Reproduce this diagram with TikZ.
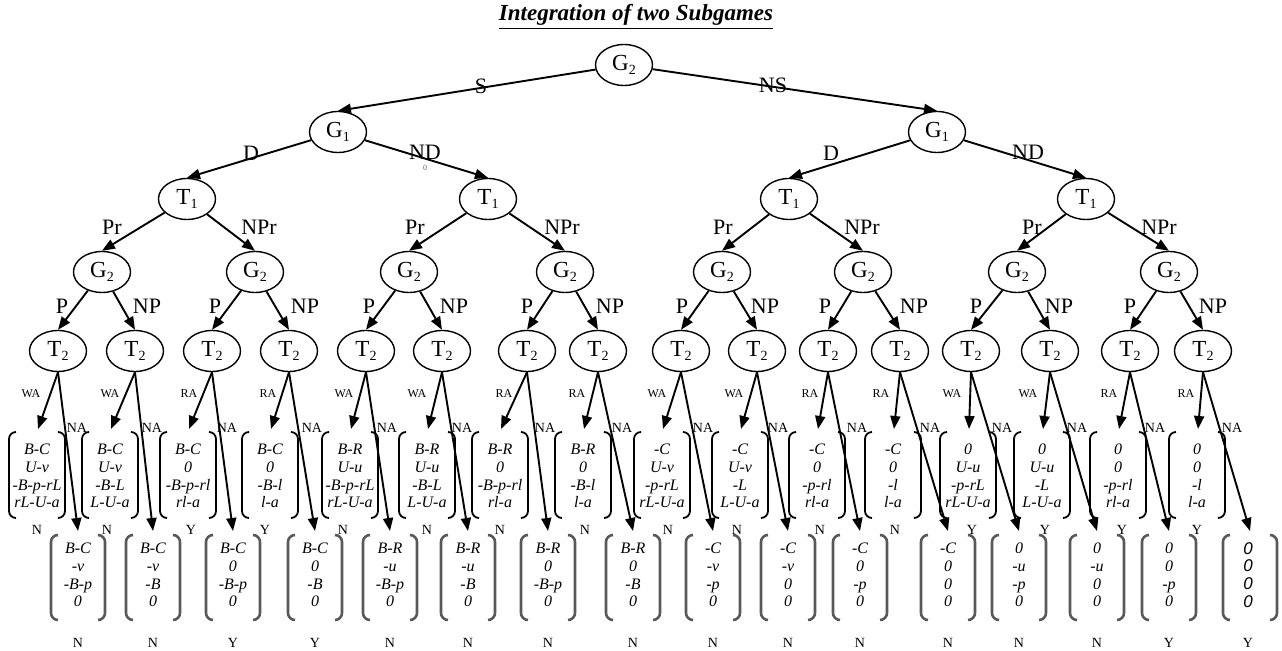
\documentclass[tikz,border=0pt]{standalone}
\usepackage{fontspec}
\setmainfont{Liberation Serif}
\newfontfamily\sansfam{Liberation Sans}
\usetikzlibrary{shapes.geometric,arrows.meta}
\newcommand\lowidx[1]{\raisebox{-0.4ex}{\fontsize{7}{8}\selectfont #1}}
\begin{document}
\begin{tikzpicture}[x=0.5pt,y=-0.5pt,
  gnode/.style={ellipse,draw,line width=0.7pt,minimum width=28.5pt,minimum height=20.5pt,inner sep=0pt,font=\fontsize{11.5}{12}\selectfont},
  arr/.style={line width=0.95pt,-{Triangle[length=6.5pt,width=5pt]}},
  elab/.style={font=\fontsize{11}{12}\selectfont,inner sep=0pt},
  smalllab/.style={font=\fontsize{6}{7}\selectfont,inner sep=0pt},
  nalab/.style={font=\fontsize{7}{8}\selectfont,inner sep=0pt},
  yn/.style={font=\fontsize{7}{8}\selectfont,inner sep=0pt},
  mat/.style={align=center,font=\fontsize{8}{8.85}\selectfont\itshape,inner sep=0pt},
  ubr/.style={rounded corners=3.5pt,line width=0.9pt},
  lbr/.style={rounded corners=3.5pt,line width=1.3pt,black!65},
]
\useasboundingbox (0,0) rectangle (1282,651);

% title
\node[font=\fontsize{11.5}{13}\selectfont\bfseries\itshape,inner sep=0pt] (title) at (636,17) {\underline{Integration of two Subgames}};

% decision nodes
\node[gnode] (r) at (624,65) {G\lowidx{2}};
\node[gnode] (a1) at (338,132) {G\lowidx{1}};
\node[gnode] (a2) at (937,132) {G\lowidx{1}};
\foreach \i/\x in {1/187,2/488,3/789,4/1086}
  \node[gnode] (b\i) at (\x,199) {T\lowidx{1}};
\foreach \i/\x in {1/102,2/255,3/409,4/565,5/722,6/863,7/1017,8/1169}
  \node[gnode] (c\i) at (\x,272) {G\lowidx{2}};
\foreach \i/\x in {1/58,2/135,3/212,4/289,5/366,6/442,7/527,8/598,9/681,10/757,11/828,12/900,13/971,14/1050,15/1130,16/1203}
  \node[gnode] (d\i) at (\x,351) {T\lowidx{2}};

% top edges
\draw[arr] (r) -- (a1.north);
\draw[arr] (r) -- (a2.north);
\draw[arr] (a1) -- (b1.north);
\draw[arr] (a1) -- (b2.north);
\draw[arr] (a2) -- (b3.north);
\draw[arr] (a2) -- (b4.north);
\foreach \p/\l/\r in {1/1/2,2/3/4,3/5/6,4/7/8} {
  \draw[arr] (b\p) -- (c\l.north);
  \draw[arr] (b\p) -- (c\r.north);
}
\foreach \p/\l/\r in {1/1/2,2/3/4,3/5/6,4/7/8,5/9/10,6/11/12,7/13/14,8/15/16} {
  \draw[arr] (c\p) -- (d\l.north);
  \draw[arr] (c\p) -- (d\r.north);
}

% edge labels
\node[elab] (lS) at (481,86) {S};
\node[elab] (lNS) at (773,85) {NS};
\node[elab] (lD1) at (251,153) {D};
\node[elab] (lND1) at (425,152) {ND};
\node[inner sep=0pt,font=\fontsize{4}{4}\selectfont,black!60] (tiny0) at (425,168) {0};
\node[elab] (lD2) at (831,153) {D};
\node[elab] (lND2) at (1028,152) {ND};
\foreach \x/\t in {112/Pr,259/NPr,415/Pr,562/NPr,723/Pr,862/NPr,1032/Pr,1159/NPr}
  \node[elab] at (\x,227) {\t};
\foreach \x/\t in {62/P,147/NP,215/P,305/NP,369/P,454/NP,527/P,610/NP,682/P,765/NP,825/P,914/NP,976/P,1059/NP,1130/P,1213/NP}
  \node[elab] at (\x,306) {\t};
\foreach \x/\t in {31/WA,110/WA,189/RA,268/RA,344/WA,417/WA,504/RA,577/RA,657/WA,734/WA,810/RA,881/RA,952/WA,1028/WA,1109/RA,1186/RA}
  \node[smalllab] at (\x,394) {\t};
\foreach \x in {77,152,227,312,387,462,545,622,703,778,857,930,1002,1077,1155,1232}
  \node[nalab] at (\x,428) {NA};

% payoff vectors: brackets, arrow targets
\foreach \i/\ux/\lx in {1/37/78,2/110/153,3/188/233,4/270/315,5/350/390,6/427/468,7/500/548,8/583/633,9/662/713,10/740/788,11/817/860,12/893/948,13/968/1019,14/1042/1097,15/1118/1169,16/1197/1250} {
  \draw[ubr] (\ux-21,432) -- (\ux-28,432) -- (\ux-28,518) -- (\ux-21,518);
  \draw[ubr] (\ux+21,432) -- (\ux+28,432) -- (\ux+28,518) -- (\ux+21,518);
  \draw[lbr] (\lx-20,535) -- (\lx-27,535) -- (\lx-27,620) -- (\lx-20,620);
  \draw[lbr] (\lx+20,535) -- (\lx+27,535) -- (\lx+27,620) -- (\lx+20,620);
  \coordinate (ut\i) at (\ux+1,429);
  \coordinate (lt\i) at (\lx,531);
}

% upper vectors
\node[mat] (u1) at (37,476) {B-C\\U-v\\-B-p-rL\\rL-U-a};
\node[mat] (u2) at (110,476) {B-C\\U-v\\-B-L\\L-U-a};
\node[mat] (u3) at (188,476) {B-C\\0\\-B-p-rl\\rl-a};
\node[mat] (u4) at (270,476) {B-C\\0\\-B-l\\l-a};
\node[mat] (u5) at (350,476) {B-R\\U-u\\-B-p-rL\\rL-U-a};
\node[mat] (u6) at (427,476) {B-R\\U-u\\-B-L\\L-U-a};
\node[mat] (u7) at (500,476) {B-R\\0\\-B-p-rl\\rl-a};
\node[mat] (u8) at (583,476) {B-R\\0\\-B-l\\l-a};
\node[mat] (u9) at (662,476) {-C\\U-v\\-p-rL\\rL-U-a};
\node[mat] (u10) at (740,476) {-C\\U-v\\-L\\L-U-a};
\node[mat] (u11) at (817,476) {-C\\0\\-p-rl\\rl-a};
\node[mat] (u12) at (893,476) {-C\\0\\-l\\l-a};
\node[mat] (u13) at (968,476) {0\\U-u\\-p-rL\\rL-U-a};
\node[mat] (u14) at (1042,476) {0\\U-u\\-L\\L-U-a};
\node[mat] (u15) at (1118,476) {0\\0\\-p-rl\\rl-a};
\node[mat] (u16) at (1197,476) {0\\0\\-l\\l-a};

% lower vectors
\node[mat] (l1) at (78,575) {B-C\\-v\\-B-p\\0};
\node[mat] (l2) at (153,575) {B-C\\-v\\-B\\0};
\node[mat] (l3) at (233,575) {B-C\\0\\-B-p\\0};
\node[mat] (l4) at (315,575) {B-C\\0\\-B\\0};
\node[mat] (l5) at (390,575) {B-R\\-u\\-B-p\\0};
\node[mat] (l6) at (468,575) {B-R\\-u\\-B\\0};
\node[mat] (l7) at (548,575) {B-R\\0\\-B-p\\0};
\node[mat] (l8) at (633,575) {B-R\\0\\-B\\0};
\node[mat] (l9) at (713,575) {-C\\-v\\-p\\0};
\node[mat] (l10) at (788,575) {-C\\-v\\0\\0};
\node[mat] (l11) at (860,575) {-C\\0\\-p\\0};
\node[mat] (l12) at (948,575) {-C\\0\\0\\0};
\node[mat] (l13) at (1019,575) {0\\-u\\-p\\0};
\node[mat] (l14) at (1097,575) {0\\-u\\0\\0};
\node[mat] (l15) at (1169,575) {0\\0\\-p\\0};
\node[mat,font=\fontsize{8.5}{8.85}\selectfont\sansfam\itshape] (l16) at (1248,575) {0\\0\\0\\0};

% arrows from T2 to outcomes
\foreach \i in {1,...,16} {
  \draw[arr] (d\i.south) -- (ut\i);
  \draw[arr] (d\i.south) -- (lt\i);
}

% Y/N labels
\foreach \x/\t in {37/N,107/N,191/Y,265/Y,343/N,427/N,500/N,585/N,668/N,737/N,820/N,895/N,972/Y,1045/Y,1122/Y,1197/Y}
  \node[yn] at (\x,530) {\t};
\foreach \x/\t in {78/N,153/N,233/Y,315/Y,390/N,468/N,548/N,633/N,713/N,788/N,860/N,948/N,1019/N,1097/N,1169/Y,1248/Y}
  \node[yn] at (\x,643) {\t};
\end{tikzpicture}
\end{document}
